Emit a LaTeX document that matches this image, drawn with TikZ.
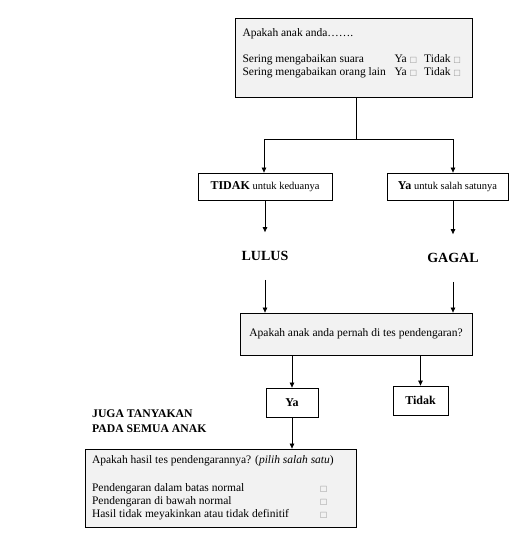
\documentclass[tikz,border=0pt]{standalone}
\usepackage{fontspec}
\setmainfont{Liberation Serif}
\newfontfamily\symfont{DejaVu Sans}
\usepackage{tikz}
\usetikzlibrary{calc,shapes,shadows,arrows.meta,positioning}
\newcommand{\cek}{{\symfont\fontsize{8}{8}\selectfont\color{black!40}\char"25A1}}
\tikzset{
	kotak/.style={draw=black,line width=0.8pt,fill=white,inner sep=0pt,
		drop shadow={shadow xshift=1.3pt,shadow yshift=-1.3pt,fill=black!55}},
	abu/.style={kotak,fill=black!5},
	judul/.style={font=\fontsize{14}{14}\selectfont\bfseries,inner xsep=0pt,inner ysep=19pt},
	panah/.style={-{Triangle[length=5pt,width=4.5pt]},line width=0.7pt},
	garis/.style={line width=0.7pt},
}
\begin{document}
\begin{tikzpicture}[x=1pt,y=-1pt,every node/.style={font=\fontsize{11.5}{13.2}\selectfont}]
		\useasboundingbox (0,0) rectangle (520,560);
		% pertanyaan awal
		\node[abu,minimum width=237pt,minimum height=79pt] (atas) at (353.5,57.5)
		{\parbox[c][57pt][t]{222pt}{Apakah anak anda…….\\[12.4pt]
		\makebox[152pt][l]{Sering mengabaikan suara}Ya \cek\hspace{7pt}Tidak \cek\\
		\makebox[152pt][l]{Sering mengabaikan orang lain}Ya \cek\hspace{7pt}Tidak \cek}};
		\node[kotak,minimum width=134pt,minimum height=27pt] (tidak) at (265,186.5)
		{{\fontsize{12}{12}\selectfont\bfseries TIDAK} {\fontsize{10.5}{12}\selectfont untuk keduanya}};
		\node[kotak,minimum width=121pt,minimum height=27pt] (satu) at (447.5,186.5)
		{{\fontsize{12}{12}\selectfont\bfseries Ya} {\fontsize{10.5}{12}\selectfont untuk salah satunya}};
		\draw[garis] ([xshift=2.5pt]atas.south) -- ++(0,42) coordinate (cabang);
		\draw[panah] (cabang) -| ([xshift=-1pt]tidak.north);
		\draw[panah] (cabang) -| ([xshift=5.5pt]satu.north);
		% hasil
		\node[judul] (lulus) at (265,256) {LULUS};
		\node[judul] (gagal) at (453,258) {GAGAL};
		\draw[panah] (tidak.south) -- (lulus.north);
		\draw[panah] (gagal.north |- satu.south) -- (gagal.north);
		% tes pendengaran
		\node[abu,minimum width=232pt,minimum height=42pt] (tanya) at (356,334)
		{Apakah anak anda pernah di tes pendengaran?};
		\draw[panah] (lulus.south) -- (lulus.south |- tanya.north);
		\draw[panah] (gagal.south) -- (gagal.south |- tanya.north);
		\node[kotak,minimum width=52pt,minimum height=29pt,font=\fontsize{12}{12}\selectfont\bfseries]
		(pernahya) at (292,402.5) {Ya};
		\node[kotak,minimum width=55pt,minimum height=29pt,font=\fontsize{12}{12}\selectfont\bfseries]
		(pernahtidak) at (420.5,400.5) {Tidak};
		\draw[panah] (tanya.south -| pernahya) -- (pernahya.north);
		\draw[panah] (tanya.south -| pernahtidak) -- (pernahtidak.north);
		\node[font=\fontsize{11.7}{15.5}\selectfont\bfseries,align=left,anchor=north west,inner sep=0pt]
		(juga) at (92,409.5) {JUGA TANYAKAN\\PADA SEMUA ANAK};
		% hasil tes
		\node[abu,minimum width=271pt,minimum height=78pt] (bawah) at (220.5,488)
		{\parbox[c][64.4pt][t]{257pt}{Apakah hasil tes pendengarannya? (\textit{pilih salah satu})\\[14.4pt]
		\makebox[228pt][l]{Pendengaran dalam batas normal}\cek\\
		\makebox[228pt][l]{Pendengaran di bawah normal}\cek\\
		\makebox[228pt][l]{Hasil tidak meyakinkan atau tidak definitif}\cek}};
		\draw[panah] (pernahya.south) -- (pernahya.south |- bawah.north);
	\end{tikzpicture}
\end{document}
